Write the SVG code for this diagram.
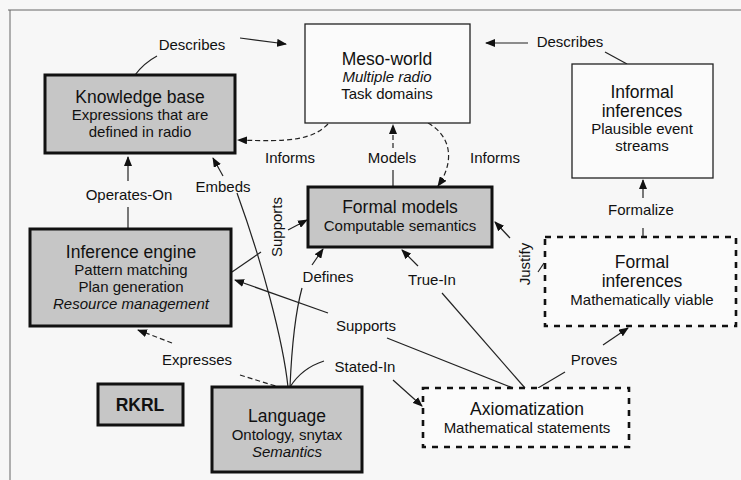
<svg xmlns="http://www.w3.org/2000/svg" width="741" height="480" viewBox="0 0 741 480">
<defs>
<marker id="ah" markerWidth="10" markerHeight="8" refX="9" refY="4" orient="auto" markerUnits="userSpaceOnUse">
<path d="M0,0 L10,4 L0,8 Z" fill="#111"/>
</marker>
<style>
text{font-family:"Liberation Sans",Arial,sans-serif;fill:#111;text-anchor:middle}
.t{font-size:17.5px}
.s{font-size:15px}
.i{font-style:italic}
.l{font-size:15px}
.b{font-weight:bold}
.gray{fill:#c6c6c6;stroke:#111;stroke-width:3}
.white{fill:#fbfbfb;stroke:#222;stroke-width:1.3}
.dash{fill:#fbfbfb;stroke:#111;stroke-width:2.6;stroke-dasharray:6 6}
.c{fill:none;stroke:#222;stroke-width:1.2}
.cd{fill:none;stroke:#222;stroke-width:1.2;stroke-dasharray:5 3}
</style>
</defs>
<rect x="0" y="0" width="741" height="480" fill="#f7f7f7"/>
<path d="M8,10 H741 M10,10 V480" fill="none" stroke="#666" stroke-width="1"/>

<g id="connectors">
<!-- Describes left -->
<path class="c" d="M135,75 Q144,63 157,56"/>
<path class="c" d="M240,38 L286,44" marker-end="url(#ah)"/>
<text class="l" x="192" y="50">Describes</text>
<!-- Describes right -->
<path class="c" d="M627,64 L605,52"/>
<path class="c" d="M528,43 L486,43" marker-end="url(#ah)"/>
<text class="l" x="570" y="47">Describes</text>
<!-- Informs left -->
<path class="cd" d="M328,124 C312,140 290,142 238,140" marker-end="url(#ah)"/>
<text class="l" x="290" y="163">Informs</text>
<!-- Models -->
<path class="c" d="M393,187 L393,170"/>
<path class="cd" d="M393,148 L393,125" marker-end="url(#ah)"/>
<text class="l" x="392" y="163">Models</text>
<!-- Informs right -->
<path class="cd" d="M428,123 C450,135 456,160 438,186" marker-end="url(#ah)"/>
<text class="l" x="495" y="163">Informs</text>
<!-- Operates-On -->
<path class="c" d="M128,228 L128,207"/>
<path class="c" d="M128,181 L128,157" marker-end="url(#ah)"/>
<text class="l" x="129" y="200">Operates-On</text>
<!-- Embeds -->
<path class="c" d="M223,176 L213,158" marker-end="url(#ah)"/>
<path class="c" d="M288,387 C283,340 262,262 237,193"/>
<text class="l" x="223" y="192">Embeds</text>
<!-- Supports vertical -->
<path class="c" d="M232,272 L261,252"/>
<path class="c" d="M288,230 L307,220" marker-end="url(#ah)"/>
<text class="l" transform="translate(282,227) rotate(-90)" x="0" y="0">Supports</text>
<!-- Defines -->
<path class="c" d="M312,265 L323,249" marker-end="url(#ah)"/>
<path class="c" d="M290,387 C292,340 296,310 302,288"/>
<text class="l" x="328" y="282">Defines</text>
<!-- True-In -->
<path class="c" d="M418,266 L402,250" marker-end="url(#ah)"/>
<path class="c" d="M442,293 L525,388"/>
<text class="l" x="432" y="285">True-In</text>
<!-- Supports horizontal -->
<path class="c" d="M328,313 L235,280" marker-end="url(#ah)"/>
<path class="c" d="M387,338 L513,388"/>
<text class="l" x="366" y="331">Supports</text>
<!-- Stated-In -->
<path class="c" d="M290,387 Q302,368 324,361"/>
<path class="c" d="M393,380 L422,406" marker-end="url(#ah)"/>
<text class="l" x="365" y="372">Stated-In</text>
<!-- Proves -->
<path class="c" d="M538,388 L565,372"/>
<path class="c" d="M603,345 L628,328" marker-end="url(#ah)"/>
<text class="l" x="594" y="365">Proves</text>
<!-- Justify -->
<path class="c" d="M510,238 L495,222" marker-end="url(#ah)"/>
<path class="c" d="M538,272 L544,263"/>
<text class="l" transform="translate(530,264) rotate(-90)" x="0" y="0">Justify</text>
<!-- Formalize -->
<path class="c" d="M643,198 L643,180" marker-end="url(#ah)"/>
<path class="c" d="M643,228 L643,237"/>
<text class="l" x="641" y="215">Formalize</text>
<!-- Expresses -->
<path class="cd" d="M172,343 L138,330" marker-end="url(#ah)"/>
<path class="cd" d="M240,375 L282,388"/>
<text class="l" x="197" y="365">Expresses</text>
</g>

<g id="knowledge-base">
<rect class="gray" x="45" y="75" width="190" height="78"/>
<text class="t" x="140" y="103">Knowledge base</text>
<text class="s" x="140" y="120">Expressions that are</text>
<text class="s" x="140" y="137">defined in radio</text>
</g>
<g id="meso-world">
<rect class="white" x="305" y="24" width="165" height="99"/>
<text class="t" x="387" y="65">Meso-world</text>
<text class="s i" x="387" y="82">Multiple radio</text>
<text class="s" x="387" y="99">Task domains</text>
</g>
<g id="informal-inferences">
<rect class="white" x="572" y="64" width="141" height="114"/>
<text class="t" x="642" y="98">Informal</text>
<text class="t" x="642" y="117">inferences</text>
<text class="s" x="642" y="134">Plausible event</text>
<text class="s" x="642" y="151">streams</text>
</g>
<g id="formal-models">
<rect class="gray" x="308" y="187" width="184" height="60"/>
<text class="t" x="400" y="213">Formal models</text>
<text class="s" x="400" y="231">Computable semantics</text>
</g>
<g id="inference-engine">
<rect class="gray" x="30" y="229" width="201" height="97"/>
<text class="t" x="131" y="258">Inference engine</text>
<text class="s" x="131" y="275">Pattern matching</text>
<text class="s" x="131" y="292">Plan generation</text>
<text class="s i" x="131" y="309">Resource management</text>
</g>
<g id="formal-inferences">
<rect class="dash" x="545" y="237" width="191" height="89"/>
<text class="t" x="642" y="268">Formal</text>
<text class="t" x="642" y="287">inferences</text>
<text class="s" x="642" y="305">Mathematically viable</text>
</g>
<g id="axiomatization">
<rect class="dash" x="423" y="388" width="206" height="59"/>
<text class="t" x="527" y="415">Axiomatization</text>
<text class="s" x="527" y="433">Mathematical statements</text>
</g>
<g id="rkrl">
<rect class="gray" x="98" y="384" width="85" height="41"/>
<text class="t b" x="140" y="411">RKRL</text>
</g>
<g id="language">
<rect class="gray" x="212" y="387" width="150" height="85"/>
<text class="t" x="287" y="422">Language</text>
<text class="s" x="287" y="439.5">Ontology, snytax</text>
<text class="s i" x="287" y="456.5">Semantics</text>
</g>
</svg>
